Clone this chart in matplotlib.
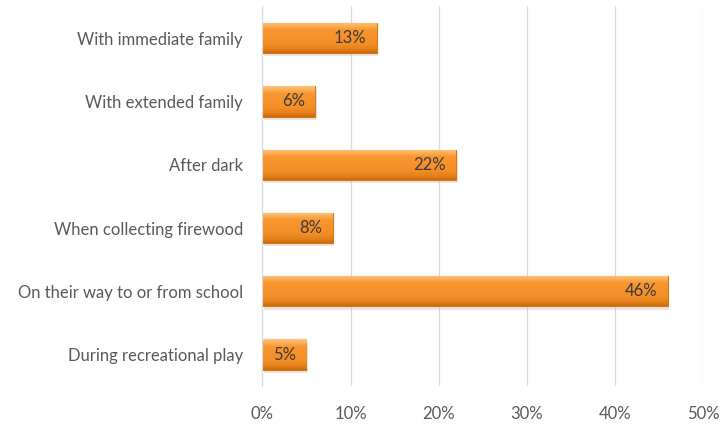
import matplotlib.pyplot as plt
import numpy as np
from matplotlib.ticker import FuncFormatter
from matplotlib.colors import LinearSegmentedColormap
from matplotlib.patches import Rectangle

# data (bottom to top as drawn)
categories = ["During recreational play", "On their way to or from school",
              "When collecting firewood", "After dark",
              "With extended family", "With immediate family"]
values = [5, 46, 8, 22, 6, 13]
xticks = [0, 10, 20, 30, 40, 50]

plt.rcParams['font.family'] = ['Lato', 'DejaVu Sans']

fig = plt.figure(figsize=(7.21, 4.33), dpi=100)
ax = fig.add_axes([0.364, 0.108, 0.611, 0.877])

y = np.arange(len(categories))
bh = 0.48

# soft shadow under each bar
for yi, v in zip(y, values):
    ax.add_patch(Rectangle((0.15, yi - bh / 2 - 0.05), v, bh, facecolor='#BBBBBB',
                           alpha=0.35, edgecolor='none', zorder=2.5))

bars = ax.barh(y, values, height=bh, color='#F7922A', edgecolor='#D57814',
               linewidth=0.8, zorder=3)

# vertical gradient over each bar (bevel look): dark bottom, light top
grad = np.linspace(0, 1, 200).reshape(-1, 1)
cmap = LinearSegmentedColormap.from_list(
    'bev', [(0, '#C9690C'), (0.12, '#E4801A'), (0.3, '#F48E26'),
            (0.75, '#F89630'), (0.88, '#FAB058'), (1, '#FCC679')])
for b in bars:
    x0, y0 = b.get_x(), b.get_y()
    w, h = b.get_width(), b.get_height()
    im = ax.imshow(grad, extent=[x0, x0 + w, y0, y0 + h], aspect='auto',
                   cmap=cmap, origin='lower', zorder=3.5, interpolation='bilinear')
    im.set_clip_path(b)

for yi, v in zip(y, values):
    ax.text(v - 1.2, yi, f"{v}%", ha='right', va='center', fontsize=12,
            color='#3A3A3A', zorder=5)

ax.set_xlim(0, 50)
ax.set_ylim(-0.5, len(categories) - 0.5)
ax.set_aspect('auto')
ax.set_xticks(xticks)
ax.xaxis.set_major_formatter(FuncFormatter(lambda v, p: f"{int(v)}%"))
ax.set_yticks(y)
ax.set_yticklabels(categories)
ax.tick_params(axis='both', length=0, labelsize=12, labelcolor='#595959')
ax.tick_params(axis='y', pad=14)
ax.tick_params(axis='x', pad=14)
ax.grid(axis='x', color='#D9D9D9', linewidth=0.9, zorder=0)
for s in ['top', 'right', 'bottom']:
    ax.spines[s].set_visible(False)
ax.spines['left'].set_color('#D9D9D9')
ax.spines['left'].set_zorder(4)

fig.savefig('out.png', dpi=100)
